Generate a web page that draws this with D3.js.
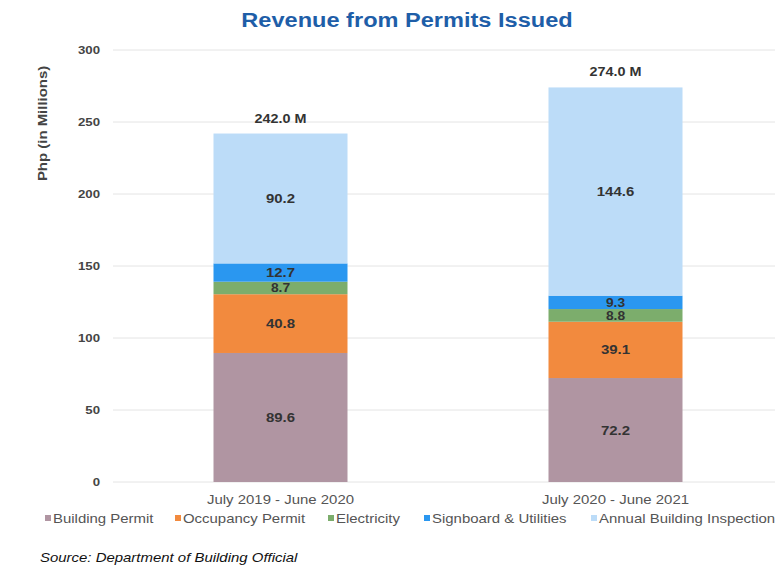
<!DOCTYPE html>
<html>
<head>
<meta charset="utf-8">
<script src="https://cdn.jsdelivr.net/npm/d3@7"></script>
<style>
  body { margin: 0; background: #fff; }
  svg { display: block; font-family: "Liberation Sans", Arial, sans-serif; }
</style>
</head>
<body>
<div id="chart"></div>
<script>
// data
const periods = ['July 2019 - June 2020', 'July 2020 - June 2021'];
const seriesNames = ['Building Permit', 'Occupancy Permit', 'Electricity', 'Signboard & Utilities', 'Annual Building Inspection'];
const buildingPermit = [89.6, 72.2];
const occupancyPermit = [40.8, 39.1];
const electricity = [8.7, 8.8];
const signboard = [12.7, 9.3];
const annualInspection = [90.2, 144.6];
const totals = [242.0, 274.0];
const yTicks = [0, 50, 100, 150, 200, 250, 300];

const colors = ['#b095a2', '#f28a3e', '#7cad6c', '#2a97f0', '#bcdcf8'];
const SX = 1.15; // source image is a bit stretched sideways

const width = 775, height = 567;
const svg = d3.select('#chart').append('svg')
  .attr('width', width)
  .attr('height', height);

// place a text at (x,y) with the horizontal stretch
function place(sel, fx, fy) {
  return sel.attr('x', 0).attr('y', 0)
    .attr('transform', (d, i) => 'translate(' + fx(d, i) + ',' + fy(d, i) + ') scale(' + SX + ',1)');
}

// title
place(svg.append('text'), () => 407, () => 27)
  .attr('text-anchor', 'middle')
  .attr('font-size', 20.5).attr('font-weight', 'bold')
  .attr('fill', '#1e5ea8')
  .text('Revenue from Permits Issued');

const x = d3.scaleBand()
  .domain(periods)
  .range([113, 783])
  .paddingInner(0.6)
  .paddingOuter(0.3);

const y = d3.scaleLinear()
  .domain([0, 300])
  .range([482, 50]);

// grid lines
svg.append('g')
  .selectAll('line')
  .data(yTicks)
  .join('line')
  .attr('x1', 113).attr('x2', 783)
  .attr('y1', d => y(d)).attr('y2', d => y(d))
  .attr('stroke', '#e4e4e4').attr('stroke-width', 1);

// y tick labels
place(svg.append('g').selectAll('text').data(yTicks).join('text'), () => 100, d => y(d) + 4)
  .attr('text-anchor', 'end')
  .attr('font-size', 11.5).attr('font-weight', 'bold')
  .attr('fill', '#444')
  .text(d => d);

svg.append('text')
  .attr('transform', 'translate(47,' + y(249) + ') rotate(-90) scale(' + SX + ',1)')
  .attr('text-anchor', 'middle')
  .attr('font-size', 13).attr('font-weight', 'bold')
  .attr('fill', '#444')
  .text('Php (in Millions)');

// stack
const rows = periods.map((p, i) => ({
  period: p,
  'Building Permit': buildingPermit[i],
  'Occupancy Permit': occupancyPermit[i],
  'Electricity': electricity[i],
  'Signboard & Utilities': signboard[i],
  'Annual Building Inspection': annualInspection[i]
}));
const stacked = d3.stack().keys(seriesNames)(rows);

const layers = svg.append('g')
  .selectAll('g')
  .data(stacked)
  .join('g')
  .attr('fill', (d, i) => colors[i]);

layers.selectAll('rect')
  .data(d => d)
  .join('rect')
  .attr('x', d => x(d.data.period))
  .attr('width', x.bandwidth())
  .attr('y', d => y(d[1]))
  .attr('height', d => y(d[0]) - y(d[1]));

place(layers.selectAll('text').data(d => d).join('text'),
    d => x(d.data.period) + x.bandwidth() / 2,
    d => y((d[0] + d[1]) / 2) + 4.5)
  .attr('text-anchor', 'middle')
  .attr('font-size', d => (d[1] - d[0]) < 10 ? 12 : 13).attr('font-weight', 'bold')
  .attr('fill', '#333')
  .text(d => (d[1] - d[0]).toFixed(1));

// totals
place(svg.append('g').selectAll('text').data(totals).join('text'),
    (d, i) => x(periods[i]) + x.bandwidth() / 2,
    d => y(d) - 11)
  .attr('text-anchor', 'middle')
  .attr('font-size', 12.5).attr('font-weight', 'bold')
  .attr('fill', '#333')
  .text(d => d.toFixed(1) + ' M');

// category labels
place(svg.append('g').selectAll('text').data(periods).join('text'),
    d => x(d) + x.bandwidth() / 2, () => 504)
  .attr('text-anchor', 'middle')
  .attr('font-size', 13)
  .attr('fill', '#555')
  .text(d => d);

// legend
const legendX = [45, 175, 328, 424, 591];
const legend = svg.append('g')
  .selectAll('g')
  .data(seriesNames)
  .join('g')
  .attr('transform', (d, i) => 'translate(' + legendX[i] + ',523)');
legend.append('rect')
  .attr('x', 0).attr('y', -8)
  .attr('width', 6).attr('height', 6)
  .attr('fill', (d, i) => colors[i]);
legend.append('text')
  .attr('x', 0).attr('y', 0)
  .attr('transform', 'translate(8,0) scale(' + SX + ',1)')
  .attr('font-size', 13)
  .attr('fill', '#555')
  .text(d => d);

// source
place(svg.append('text'), () => 40, () => 562)
  .attr('font-size', 13).attr('font-style', 'italic')
  .attr('fill', '#111')
  .text('Source: Department of Building Official');
</script>
</body>
</html>
